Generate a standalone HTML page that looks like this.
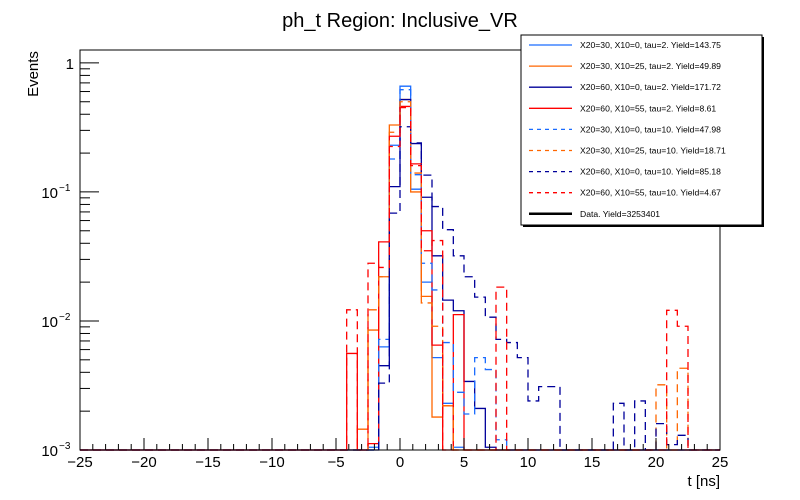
<!DOCTYPE html>
<html><head><meta charset="utf-8"><style>
body{margin:0;background:#fff;}
svg{display:block;font-family:"Liberation Sans",sans-serif;}
</style></head><body>
<svg id="c" width="800" height="500" xmlns="http://www.w3.org/2000/svg">
<rect width="800" height="500" fill="#fff"/>
<text x="400" y="27" font-size="20" text-anchor="middle">ph_t Region: Inclusive_VR</text>
<text transform="translate(38,74) rotate(-90)" font-size="15" text-anchor="middle">Events</text>
<text x="720" y="486" font-size="15" text-anchor="end">t [ns]</text>
<g id="hists"></g>
<g id="axes"></g>
<g id="legend"></g>
</svg>
<script>
const xTicks=[-25,-20,-15,-10,-5,0,5,10,15,20,25];
const yDecades=[0,-1,-2,-3];
const yTickLabels=["1","10","10","10"];
const yTickExps=["","−1","−2","−3"];
const firstBin=25;
const nBins=60, xMin=-25, xMax=25;
const lightBlueT2=[0,0,0.00105,0.0063,0.23,0.66,0.105,0.02,0.0052,0.0023,0.00105];
const orangeT2=[0,0.00145,0.0085,0.022,0.33,0.52,0.1,0.0155,0.0018,0.0022];
const navyT2=[0,0,0,0.0045,0.11,0.52,0.237,0.091,0.032,0.0145,0.012,0.0034,0.0021,0.00105];
const redT2=[0.0056,0,0.00112,0.041,0.27,0.46,0.165,0.05,0.0065,0,0.0112];
const lightBlueT10=[0,0,0,0.0072,0.18,0.62,0.136,0.028,0.0174,0.0068,0.0028,0.0019,0.0052,0.0042,0.0012];
const orangeT10=[0,0,0.0122,0.022,0.29,0.5,0.14,0.0138,0.0091,0.0022,0,0,0,0,0,0,0,0,0,0,0,0,0,0,0,0,0,0,0,0.0032,0,0.0043];
const navyT10=[0,0,0,0.0033,0.0685,0.32,0.24,0.135,0.077,0.051,0.032,0.022,0.0153,0.0107,0.0072,0.0068,0.0052,0.0024,0.0031,0.0031,0,0,0,0,0,0.0023,0,0.0024,0,0.0016,0.0011,0.0013];
const redT10=[0.0122,0,0.028,0.026,0.225,0.45,0.16,0.035,0.042,0,0,0,0,0,0.0183,0,0,0,0,0,0,0,0,0,0,0,0,0,0,0,0.0121,0.0091];
const legendLabels=["X20=30, X10=0, tau=2. Yield=143.75","X20=30, X10=25, tau=2. Yield=49.89","X20=60, X10=0, tau=2. Yield=171.72","X20=60, X10=55, tau=2. Yield=8.61","X20=30, X10=0, tau=10. Yield=47.98","X20=30, X10=25, tau=10. Yield=18.71","X20=60, X10=0, tau=10. Yield=85.18","X20=60, X10=55, tau=10. Yield=4.67","Data. Yield=3253401"];

const L=80,R=720,T=50,B=450,topLog=0.1,botLog=-3;
const NS="http://www.w3.org/2000/svg";
function X(v){return L+(v-xMin)/(xMax-xMin)*(R-L);}
function Y(v){if(v<=0)return B;let l=Math.log10(v);l=Math.max(botLog,Math.min(topLog,l));return B-(l-botLog)/(topLog-botLog)*(B-T);}
function mk(tag,attrs,parent){const e=document.createElementNS(NS,tag);for(const k in attrs)e.setAttribute(k,attrs[k]);parent.appendChild(e);return e;}
const series=[
 {d:lightBlueT2,c:"#1a6cff",dash:null,n:"hist-x20-30-x10-0-tau2"},
 {d:orangeT2,c:"#ff6600",dash:null,n:"hist-x20-30-x10-25-tau2"},
 {d:navyT2,c:"#00009a",dash:null,n:"hist-x20-60-x10-0-tau2"},
 {d:redT2,c:"#ff0000",dash:null,n:"hist-x20-60-x10-55-tau2"},
 {d:lightBlueT10,c:"#1a6cff",dash:"8 5",n:"hist-x20-30-x10-0-tau10"},
 {d:orangeT10,c:"#ff6600",dash:"8 5",n:"hist-x20-30-x10-25-tau10"},
 {d:navyT10,c:"#00009a",dash:"8 5",n:"hist-x20-60-x10-0-tau10"},
 {d:redT10,c:"#ff0000",dash:"8 5",n:"hist-x20-60-x10-55-tau10"}
];
const hg=document.getElementById('hists');
const bw=(xMax-xMin)/nBins;
series.forEach(s=>{
  let p="M"+X(xMin)+","+B;
  for(let i=0;i<nBins;i++){
    const k=i-firstBin;const v=(k>=0&&k<s.d.length)?s.d[k]:0;
    const y=Y(v);
    p+=" L"+X(xMin+i*bw).toFixed(2)+","+y.toFixed(2)+" L"+X(xMin+(i+1)*bw).toFixed(2)+","+y.toFixed(2);
  }
  p+=" L"+X(xMax)+","+B;
  const e=mk('path',{d:p,fill:"none",stroke:s.c,"stroke-width":1.3},hg);
  if(s.dash)e.setAttribute('stroke-dasharray',s.dash);
  
  
});
const ag=document.getElementById('axes');
const fr=mk('rect',{x:L,y:T,width:R-L,height:B-T,fill:"none",stroke:"#000","stroke-width":1},ag);


for(let v=xMin;v<=xMax;v++){
  const maj=(v%5===0);
  mk('line',{x1:X(v),x2:X(v),y1:B,y2:B-(maj?12:6),stroke:"#000","stroke-width":1},ag);
}
xTicks.forEach(v=>{
  const t=mk('text',{x:X(v),y:467,"font-size":15,"text-anchor":"middle"},ag);
  t.textContent=(v<0?"−":"")+Math.abs(v);
  
  
});
for(let d=-3;d<=0;d++){
  for(let m=1;m<=9;m++){
    const v=m*Math.pow(10,d);const y=Y(v);
    if(Math.log10(v)>topLog)continue;
    mk('line',{x1:L,x2:L+(m===1?19:10),y1:y,y2:y,stroke:"#000","stroke-width":1},ag);
  }
}
yDecades.forEach((d,i)=>{
  const y=Y(Math.pow(10,d));
  const t=mk('text',{x:yTickExps[i]?58:74,y:y+6,"font-size":15,"text-anchor":"end"},ag);
  t.textContent=yTickLabels[i];
  
  
  if(yTickExps[i]){const e=mk('text',{x:59,y:y-1,"font-size":10},ag);e.textContent=yTickExps[i];}
});
const lg=document.getElementById('legend');
mk('rect',{x:523,y:37,width:241,height:190,fill:"#000"},lg);
mk('rect',{x:521,y:35,width:241,height:190,fill:"#fff",stroke:"#000","stroke-width":1},lg);
const legColors=["#1a6cff","#ff6600","#00009a","#ff0000","#1a6cff","#ff6600","#00009a","#ff0000","#000"];
legendLabels.forEach((lab,i)=>{
  const y=45+i*21.1;
  const ln=mk('line',{x1:529,x2:572,y1:y,y2:y,stroke:legColors[i],"stroke-width":i===8?2.5:1.3},lg);
  if(i>=4&&i<8)ln.setAttribute('stroke-dasharray','4 4');
  const t=mk('text',{x:580,y:y+3,"font-size":8.6},lg);
  t.textContent=lab;
  
  
});
</script>
</body></html>
